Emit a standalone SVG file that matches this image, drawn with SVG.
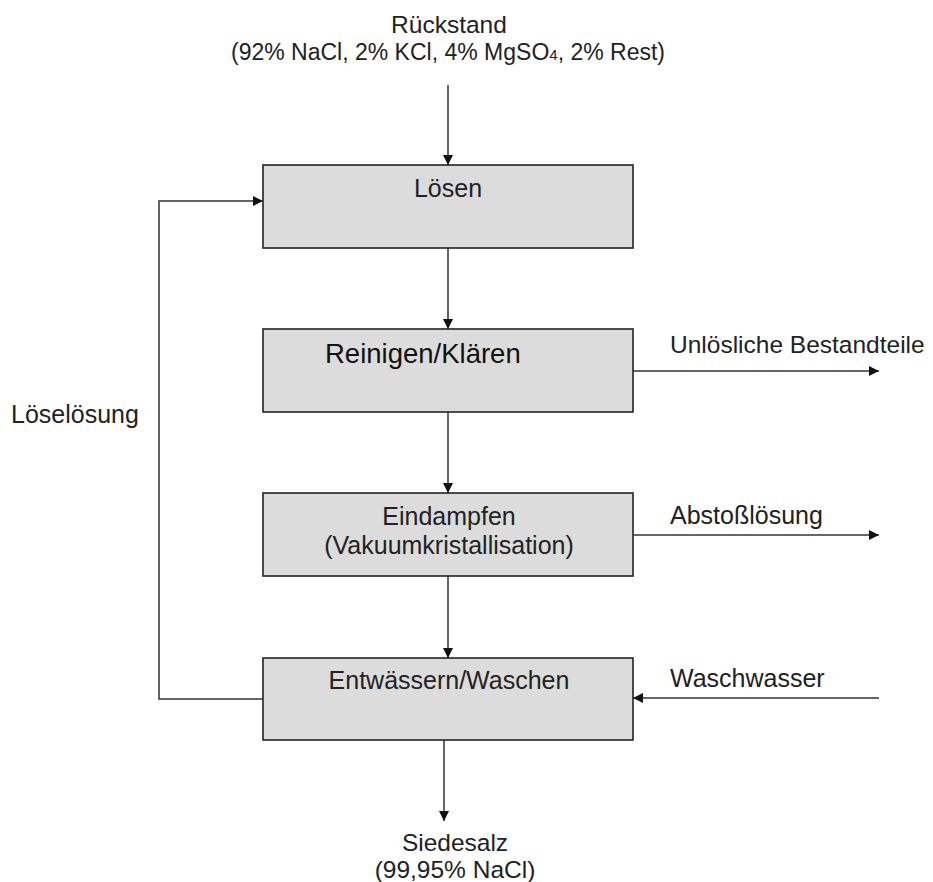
<svg xmlns="http://www.w3.org/2000/svg" width="933" height="882" viewBox="0 0 933 882">
<defs>
<marker id="ah" viewBox="0 0 10 10" refX="10" refY="5" markerWidth="10" markerHeight="10" markerUnits="userSpaceOnUse" orient="auto">
<path d="M0,0 L10,5 L0,10 Z" fill="#111"/>
</marker>
<style>
.box{fill:#dcdcdc;stroke:#222;stroke-width:1.6}
.t{font-family:"Liberation Sans",Arial,sans-serif;font-size:25px;fill:#222}
.c{text-anchor:middle}
.ln{fill:none;stroke:#333;stroke-width:1.5}
.ar{marker-end:url(#ah)}
</style>
</defs>
<rect width="933" height="882" fill="#fff"/>
<g id="label-rueckstand">
<text class="t c" x="449" y="33" style="font-size:24.5px">Rückstand</text>
<text class="t c" x="448" y="60" style="font-size:23px">(92% NaCl, 2% KCl, 4% MgSO<tspan font-size="15">4</tspan>, 2% Rest)</text>
</g>
<g id="node-loesen">
<rect class="box" x="263" y="165" width="370" height="83"/>
<text class="t c" x="448" y="197">Lösen</text>
</g>
<g id="node-reinigen">
<rect class="box" x="263" y="329" width="370" height="83"/>
<text class="t" x="325" y="363" style="font-size:27.5px;fill:#111">Reinigen/Klären</text>
</g>
<g id="node-eindampfen">
<rect class="box" x="263" y="493" width="370" height="83"/>
<text class="t c" x="449" y="525">Eindampfen</text>
<text class="t c" x="449" y="554">(Vakuumkristallisation)</text>
</g>
<g id="node-entwaessern">
<rect class="box" x="263" y="658" width="370" height="82"/>
<text class="t c" x="449" y="689">Entwässern/Waschen</text>
</g>
<g id="label-siedesalz">
<text class="t c" x="455" y="851" style="font-size:24.5px">Siedesalz</text>
<text class="t c" x="455" y="878" style="font-size:24.5px">(99,95% NaCl)</text>
</g>
<g id="label-loeseloesung"><text class="t" x="11" y="423">Löselösung</text></g>
<g id="label-unloeslich"><text class="t" x="670" y="353" style="font-size:24.5px">Unlösliche Bestandteile</text></g>
<g id="label-abstoss"><text class="t" x="670" y="524">Abstoßlösung</text></g>
<g id="label-waschwasser"><text class="t" x="670" y="687">Waschwasser</text></g>
<g id="connectors">
<line class="ln ar" x1="448" y1="85" x2="448" y2="165"/>
<line class="ln ar" x1="448" y1="248" x2="448" y2="329"/>
<line class="ln ar" x1="448" y1="412" x2="448" y2="493"/>
<line class="ln ar" x1="448" y1="576" x2="448" y2="658"/>
<line class="ln ar" x1="444" y1="740" x2="444" y2="821"/>
<polyline class="ln ar" points="263,699 159,699 159,201 263,201"/>
<line class="ln ar" x1="633" y1="371" x2="879" y2="371"/>
<line class="ln ar" x1="633" y1="535" x2="879" y2="535"/>
<line class="ln ar" x1="879" y1="698" x2="633" y2="698"/>
</g>
</svg>
